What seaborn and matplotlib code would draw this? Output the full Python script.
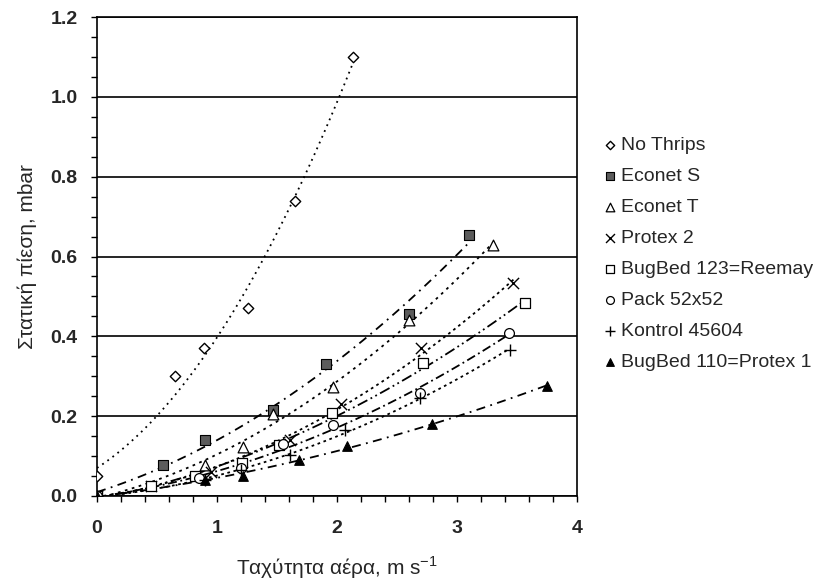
import numpy as np
import pandas as pd
import matplotlib
matplotlib.use("Agg")
import matplotlib.pyplot as plt
import seaborn as sns
from matplotlib.ticker import MultipleLocator, FormatStrFormatter

# Air velocity (m/s) and static pressure (mbar) for each screen material
names = ["No Thrips", "Econet S", "Econet T", "Protex 2",
         "BugBed 123=Reemay", "Pack 52x52", "Kontrol 45604", "BugBed 110=Protex 1"]

no_thrips_v = [0.0, 0.65, 0.89, 1.26, 1.65, 2.13]
no_thrips_p = [0.05, 0.30, 0.37, 0.47, 0.74, 1.10]

econet_s_v = [0.0, 0.55, 0.90, 1.47, 1.91, 2.60, 3.10]
econet_s_p = [0.0, 0.078, 0.14, 0.215, 0.33, 0.455, 0.655]

econet_t_v = [0.0, 0.90, 1.22, 1.47, 1.97, 2.60, 3.30]
econet_t_p = [0.0, 0.078, 0.124, 0.205, 0.274, 0.44, 0.63]

protex2_v = [0.0, 0.45, 0.95, 1.61, 2.03, 2.70, 3.47]
protex2_p = [0.0, 0.025, 0.06, 0.14, 0.23, 0.37, 0.533]

bugbed123_v = [0.0, 0.45, 0.82, 1.21, 1.52, 1.96, 2.72, 3.57]
bugbed123_p = [0.0, 0.025, 0.05, 0.082, 0.128, 0.209, 0.332, 0.483]

pack_v = [0.0, 0.85, 1.20, 1.55, 1.97, 2.69, 3.43]
pack_p = [0.0, 0.045, 0.07, 0.13, 0.178, 0.257, 0.409]

kontrol_v = [0.0, 0.90, 1.20, 1.61, 2.07, 2.69, 3.44]
kontrol_p = [0.0, 0.04, 0.065, 0.103, 0.165, 0.245, 0.367]

bugbed110_v = [0.0, 0.90, 1.22, 1.68, 2.08, 2.79, 3.75]
bugbed110_p = [0.0, 0.04, 0.05, 0.09, 0.125, 0.18, 0.276]

series = [
    (no_thrips_v, no_thrips_p),
    (econet_s_v, econet_s_p),
    (econet_t_v, econet_t_p),
    (protex2_v, protex2_p),
    (bugbed123_v, bugbed123_p),
    (pack_v, pack_p),
    (kontrol_v, kontrol_p),
    (bugbed110_v, bugbed110_p),
]

# marker styles: (marker, face, size, linewidth)
marker_styles = [
    ("D", "white", 28, 1.0),
    ("s", "#5c5c5c", 48, 0.8),
    ("^", "white", 60, 0.9),
    ("x", "black", 65, 1.0),
    ("s", "white", 58, 0.9),
    ("o", "white", 50, 0.9),
    ("+", "black", 80, 1.0),
    ("^", "black", 48, 0.8),
]

# trendline dash patterns
trend_styles = [
    (0, (1, 2.5)),
    (0, (5, 3, 1, 3)),
    (0, (1.5, 2.5)),
    (0, (1.5, 2)),
    (0, (6, 2, 1, 2, 1, 2)),
    (0, (5, 2, 1, 2)),
    (0, (1.5, 2)),
    (0, (5, 3, 1, 3)),
]

sns.set_theme(style="white")
plt.rcParams["font.family"] = ["Liberation Sans", "DejaVu Sans"]

fig = plt.figure(figsize=(8.24, 5.86), dpi=100)
ax = fig.add_axes([97 / 824, 1 - 496 / 586, 480 / 824, 479 / 586])

for name, (v, p), (mk, face, s, lw), ls in zip(names, series, marker_styles, trend_styles):
    df = pd.DataFrame({"v": v, "p": p})
    sns.regplot(data=df, x="v", y="p", order=2, ci=None, scatter=False, ax=ax,
                truncate=True,
                line_kws=dict(color="black", lw=1.3, linestyle=ls))
    if mk in ("x", "+"):
        sns.scatterplot(data=df, x="v", y="p", marker=mk, s=s, color="black",
                        linewidth=lw, ax=ax, label=name, zorder=5)
    else:
        sns.scatterplot(data=df, x="v", y="p", marker=mk, s=s, facecolor=face,
                        edgecolor="black", linewidth=lw, ax=ax, label=name,
                        zorder=5)

ax.set_xlim(0, 4)
ax.set_ylim(0, 1.2)
ax.xaxis.set_major_locator(MultipleLocator(1))
ax.xaxis.set_minor_locator(MultipleLocator(0.2))
ax.yaxis.set_major_locator(MultipleLocator(0.2))
ax.yaxis.set_minor_locator(MultipleLocator(0.05))
ax.yaxis.set_major_formatter(FormatStrFormatter("%.1f"))
ax.xaxis.set_major_formatter(FormatStrFormatter("%d"))

ax.grid(axis="y", which="major", color="black", lw=1.2)
ax.grid(axis="x", visible=False)
for sp in ax.spines.values():
    sp.set_color("black")
    sp.set_linewidth(1.2)
ax.tick_params(axis="both", which="both", direction="out", length=4, width=1,
               color="black", bottom=True, left=True)
ax.tick_params(axis="x", which="major", labelsize=14, pad=13.5)
ax.tick_params(axis="y", which="major", labelsize=14, pad=10)
for lab in ax.get_xticklabels() + ax.get_yticklabels():
    lab.set_fontweight("bold")

ax.set_xlabel("Ταχύτητα αέρα, m s$^{\\mathregular{-1}}$", fontsize=15, labelpad=12)
ax.set_ylabel("Στατική πίεση, mbar", fontsize=15, labelpad=10)

handles, labels = ax.get_legend_handles_labels()
if ax.legend_:
    ax.legend_.remove()
fig.legend(handles, labels, loc="center left",
           bbox_to_anchor=(603 / 824, 1 - 254 / 586), frameon=False,
           fontsize=14, markerscale=0.8, handletextpad=0.22, handlelength=0.7,
           labelspacing=0.69, borderpad=0, borderaxespad=0)

fig.savefig("out.png", dpi=100, facecolor="white")
